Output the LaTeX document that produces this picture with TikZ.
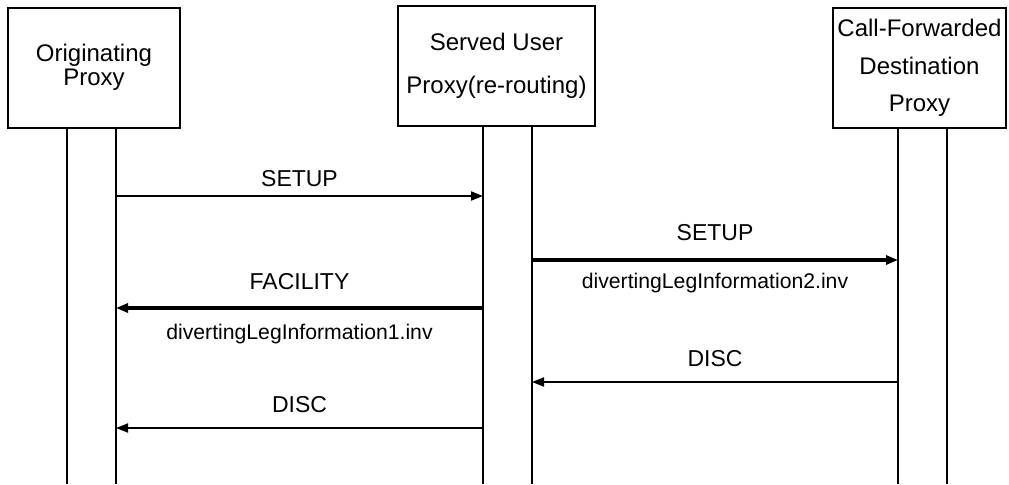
\documentclass[tikz,border=0pt]{standalone}
\usepackage{fontspec}
\setmainfont{Liberation Sans}
\usetikzlibrary{arrows.meta}
\tikzset{
    proxy/.style={rectangle,draw,line width=1pt,inner sep=2pt,align=center,minimum height=60pt},
    life/.style={-,draw=black,line width=0.75pt},
    msg/.style={-{Triangle[length=6pt,width=4.5pt]},draw=black,line width=0.9pt},
    msgbold/.style={msg,line width=2pt},
    msglabel/.style={inner sep=0pt,font=\fontsize{11.5}{13}\selectfont},
    msginfo/.style={inner sep=0pt,font=\fontsize{10.6}{12}\selectfont},
}

\begin{document}
\begin{tikzpicture}[x=0.5pt,y=-0.5pt]
\useasboundingbox (0,0) rectangle (1009,484);
\node[proxy,minimum width=86pt,font=\fontsize{12}{12}\selectfont] (orig) at (94,67.5) {Originating\\Proxy};
\node[proxy,minimum width=98.5pt,font=\fontsize{12}{21.5}\selectfont] (served) at (496.5,66) {Served User\\Proxy(re-routing)};
\node[proxy,minimum width=86.5pt,font=\fontsize{12}{18.75}\selectfont] (dest) at (919.5,68) {Call-Forwarded\\Destination\\Proxy};
% lifelines
\coordinate (l1a) at (67,484);
\coordinate (l1b) at (116,484);
\coordinate (l2a) at (483,484);
\coordinate (l2b) at (532,484);
\coordinate (l3a) at (898,484);
\coordinate (l3b) at (947,484);
\draw[life] (l1a |- orig.south) -- (l1a);
\draw[life] (l1b |- orig.south) -- (l1b);
\draw[life] (l2a |- served.south) -- (l2a);
\draw[life] (l2b |- served.south) -- (l2b);
\draw[life] (l3a |- dest.south) -- (l3a);
\draw[life] (l3b |- dest.south) -- (l3b);
% message rows
\coordinate (r1) at (0,196);
\coordinate (r2) at (0,260);
\coordinate (r3) at (0,308);
\coordinate (r4) at (0,382);
\coordinate (r5) at (0,428);
\draw[msg] (l1b |- r1) -- node[msglabel,above=4pt] {SETUP} (l2a |- r1);
\draw[msgbold] (l2b |- r2) -- node[msglabel,above=8.5pt] {SETUP}
    node[msginfo,below=5.5pt] {divertingLegInformation2.inv} (l3a |- r2);
\draw[msgbold] (l2a |- r3) -- node[msglabel,above=8pt] {FACILITY}
    node[msginfo,below=7pt] {divertingLegInformation1.inv} (l1b |- r3);
\draw[msg] (l3a |- r4) -- node[msglabel,above=7pt] {DISC} (l2b |- r4);
\draw[msg] (l2a |- r5) -- node[msglabel,above=7pt] {DISC} (l1b |- r5);
\end{tikzpicture}
\end{document}
